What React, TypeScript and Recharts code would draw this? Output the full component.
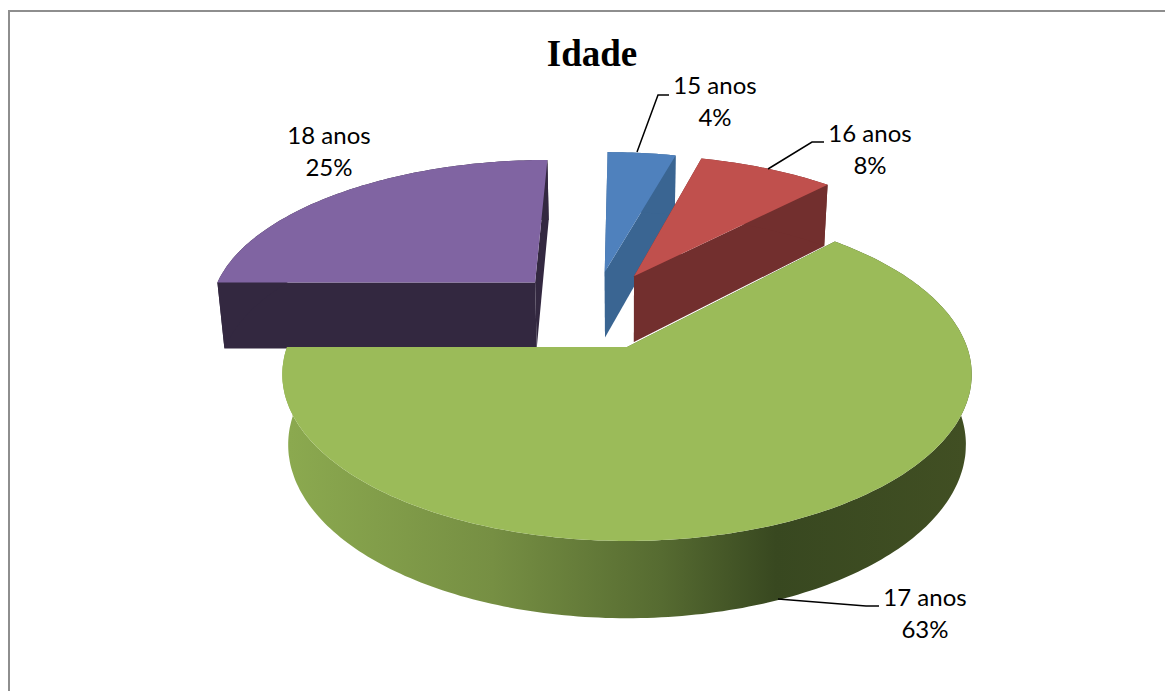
import React from "react";
import { PieChart, Pie } from "recharts";

// drawn clockwise starting at 9 o'clock so the big slice paints last
const categories = ["18 anos", "15 anos", "16 anos", "17 anos"];
const values = [25, 4, 8, 63];
const topColors = ["#8064A2", "#4F81BD", "#C0504D", "#9BBB59"];
const wallColors = ["#332840", "#3A6592", "#722F2E", "url(#greenWall)"];

const data = categories.map((name, i) => ({ name, value: values[i], fill: topColors[i] }));

// perspective model for the tilted pie
const X0 = 627;
const Y0 = 347;
const A = 340;
const B = 162;
const P = 0.165;
const DEPTH = 69;
const DEPTH_P = 0.107;
const SHRINK = 0.983;
const CENTER_U = -0.104;
const CENTER_V = -0.2407;
const EXPLODE = 0.262;

const project = (u: number, v: number, bottom = false) => {
  const w = 1 - P * v;
  const x = X0 + (A * u) / w;
  const y = Y0 + (B * v) / w;
  if (!bottom) return [x, y];
  return [X0 + (x - X0) * SHRINK, y + DEPTH / (1 - DEPTH_P * v)];
};

const toPath = (pts: number[][]) =>
  "M" + pts.map((p) => `${p[0].toFixed(1)},${p[1].toFixed(1)}`).join("L") + "Z";

const Slice3D = (props: any) => {
  const { startAngle, endAngle, index } = props;
  const mid = (((startAngle + endAngle) / 2) * Math.PI) / 180;
  const ou = CENTER_U + EXPLODE * Math.cos(mid);
  const ov = CENTER_V - EXPLODE * Math.sin(mid);
  const arc: number[][] = [];
  const steps = Math.max(6, Math.round(Math.abs(endAngle - startAngle)));
  for (let i = 0; i <= steps; i++) {
    const a = ((startAngle + ((endAngle - startAngle) * i) / steps) * Math.PI) / 180;
    arc.push([ou + Math.cos(a), ov - Math.sin(a)]);
  }
  const top = arc.map((p) => project(p[0], p[1]));
  const low = arc.map((p) => project(p[0], p[1], true));
  const apexTop = project(ou, ov);
  const apexLow = project(ou, ov, true);
  const wall = wallColors[index];
  const first = top.length - 1;
  return (
    <g>
      <path d={toPath([apexTop, top[0], low[0], apexLow])} fill={wall} />
      <path d={toPath([apexTop, top[first], low[first], apexLow])} fill={wall} />
      <path d={toPath([...top, ...[...low].reverse()])} fill={wall} />
      <path d={toPath([apexTop, ...top])} fill={topColors[index]} />
    </g>
  );
};

const labelSpots = [
  { x: 329, y: 144, line: "" },
  { x: 715, y: 94, line: "M637,152 L658,95 L669,95" },
  { x: 870, y: 142, line: "M768,169 L812,142 L824,142" },
  { x: 925, y: 606, line: "M778,599 L866,606 L879,606" },
];

const SliceLabel = (props: any) => {
  const { index, name, value } = props;
  const s = labelSpots[index];
  return (
    <g>
      {s.line && <path d={s.line} fill="none" stroke="#000" strokeWidth={1.5} />}
      <text x={s.x} y={s.y} textAnchor="middle" fontFamily="Lato" fontSize={24} fill="#000">
        {name}
      </text>
      <text x={s.x} y={s.y + 32} textAnchor="middle" fontFamily="Lato" fontSize={24} fill="#000">
        {value}%
      </text>
    </g>
  );
};

export default function App() {
  return (
    <div style={{ position: "absolute", left: 0, top: 0, width: 1165, height: 691, background: "#fff" }}>
      <div
        style={{
          position: "absolute",
          left: 8,
          top: 10,
          right: 0,
          bottom: 0,
          borderLeft: "2px solid #8e8e8e",
          borderTop: "2px solid #8e8e8e",
        }}
      />
      <div style={{ position: "absolute", left: 0, top: 0 }}>
        <PieChart width={1165} height={691}>
          <defs>
            <linearGradient id="greenWall" gradientUnits="userSpaceOnUse" x1="290" y1="0" x2="965" y2="0">
              <stop offset="0" stopColor="#8BA94F" />
              <stop offset="0.3" stopColor="#768F43" />
              <stop offset="0.55" stopColor="#566B31" />
              <stop offset="0.72" stopColor="#384820" />
              <stop offset="1" stopColor="#414F23" />
            </linearGradient>
          </defs>
          <text
            x={592}
            y={66}
            textAnchor="middle"
            fontFamily="Liberation Serif"
            fontWeight="bold"
            fontSize={37}
            fill="#000"
          >
            Idade
          </text>
          <Pie
            data={data}
            dataKey="value"
            nameKey="name"
            cx={627}
            cy={347}
            outerRadius={300}
            startAngle={180}
            endAngle={-180}
            stroke="none"
            isAnimationActive={false}
            shape={Slice3D}
            label={SliceLabel}
            labelLine={false}
          />
        </PieChart>
      </div>
    </div>
  );
}
